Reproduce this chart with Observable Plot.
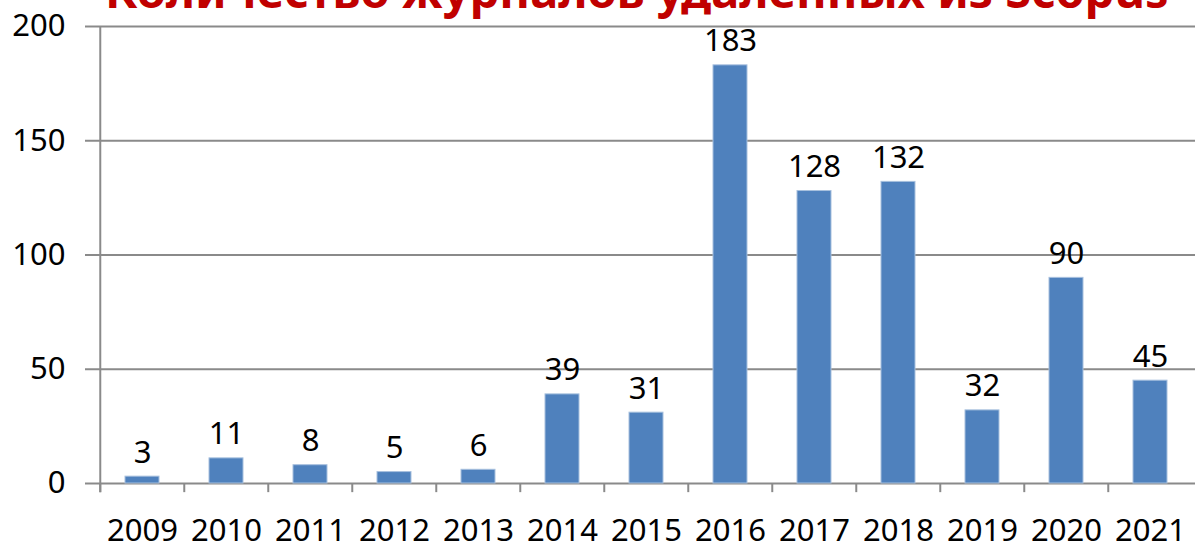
<!DOCTYPE html>
<html>
<head>
<meta charset="utf-8">
<script src="https://cdn.jsdelivr.net/npm/d3@7"></script>
<script src="https://cdn.jsdelivr.net/npm/@observablehq/plot@0.6"></script>
<style>
  html, body { margin: 0; padding: 0; background: #fff; overflow: hidden; }
  #wrap { position: relative; width: 1195px; height: 545px; }
  #title { position: absolute; left: 105px; top: -33px; font-family: "Noto Sans", sans-serif; font-weight: 700; font-size: 47px; line-height: 1; color: #C00000; white-space: nowrap; z-index: 2; }
  #chart { position: absolute; left: 0; top: 0; }
</style>
</head>
<body>
<div id="wrap">
  <div id="title">Количество журналов удаленных из Scopus</div>
  <div id="chart"></div>
</div>
<script>
const years = ["2009","2010","2011","2012","2013","2014","2015","2016","2017","2018","2019","2020","2021"];
const counts = [3, 11, 8, 5, 6, 39, 31, 183, 128, 132, 32, 90, 45];
const yTicks = [0, 50, 100, 150, 200];

const data = years.map((y, i) => ({year: y, count: counts[i]}));

const W = 1195, H = 545, ML = 97, MR = 0, MT = 26, MB = 62;
const step = (W - ML - MR) / years.length;
const gray = "#8a8a8a";
const fs = 31;

const chart = Plot.plot({
  width: W,
  height: H,
  marginLeft: ML,
  marginRight: MR,
  marginTop: MT,
  marginBottom: MB,
  style: {fontFamily: "Noto Sans, sans-serif", background: "#fff", color: "#000"},
  x: {domain: years, paddingInner: 0.6, paddingOuter: 0.3, label: null},
  y: {domain: [0, 200], label: null},
  marks: [
    Plot.ruleY(yTicks, {stroke: gray, strokeWidth: 2}),
    Plot.axisY({ticks: yTicks, tickSize: 12, tickPadding: 20, stroke: gray, strokeWidth: 2, fill: "#000", fontSize: fs, label: null}),
    Plot.ruleX(years.slice(0, 1), {x: d => d, dx: -step / 2, y1: -4, y2: 200, stroke: gray, strokeWidth: 2, clip: false}),
    Plot.ruleX(years, {x: d => d, dx: -step / 2, y1: -4, y2: 0, stroke: gray, strokeWidth: 2, clip: false}),
    Plot.barY(data, {x: "year", y: "count", fill: "#4F81BD", stroke: "#a7c0de", strokeWidth: 1}),
    Plot.text(data, {x: "year", y: "count", text: d => String(d.count), lineAnchor: "bottom", dy: -14, fontSize: fs, fill: "#000"}),
    Plot.axisX({tickSize: 0, tickPadding: 35, fontSize: fs, fill: "#000", label: null})
  ]
});
document.getElementById("chart").appendChild(chart);
</script>
</body>
</html>
